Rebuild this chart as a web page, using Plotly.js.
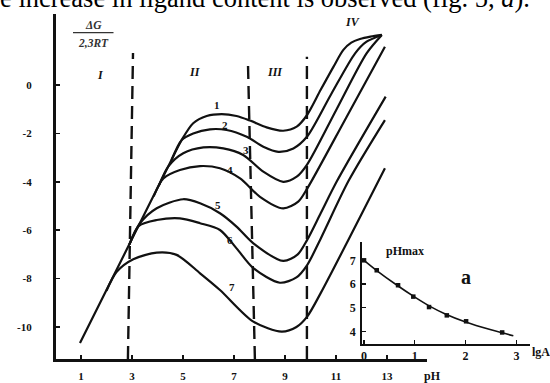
<!DOCTYPE html>
<html>
<head>
<meta charset="utf-8">
<script src="https://cdn.plot.ly/plotly-3.0.1.min.js"></script>
<style>html,body{margin:0;padding:0;background:#fff;}#chart{width:550px;height:383px;}</style>
</head>
<body>
<div id="chart"></div>
<script>
// ---- main figure data: ΔG/2.3RT vs pH (curves 1..7) ----
const pH1 = [0.96, 4.4, 4.95, 5.4, 5.93, 6.52, 7.1, 7.63, 8.28, 8.93, 9.46, 9.86, 10.4, 10.9, 11.29, 11.6, 11.94, 12.35, 12.8];
const dG1 = [-10.66, -3.41, -2.27, -1.58, -1.28, -1.2, -1.28, -1.47, -1.75, -1.89, -1.72, -1.25, -0.2, 0.75, 1.45, 1.75, 1.9, 2.0, 2.07];

const pH2 = [4.55, 4.95, 5.4, 6.06, 6.71, 7.5, 8.15, 8.74, 9.33, 9.86, 10.8, 11.75, 12.2, 12.8];
const dG2 = [-3.1, -2.27, -2.0, -1.83, -1.86, -2.14, -2.55, -2.76, -2.62, -2.14, -0.4, 1.31, 1.79, 2.07];

const pH3 = [4.05, 4.42, 5.01, 5.8, 6.58, 7.36, 8.15, 8.93, 9.46, 9.86, 11.0, 12.2, 12.8];
const dG3 = [-4.17, -3.37, -2.82, -2.58, -2.62, -2.89, -3.58, -4.0, -3.79, -3.3, -1.05, 1.31, 2.07];

const pH4 = [3.85, 4.23, 4.88, 5.67, 6.45, 7.24, 8.02, 8.93, 9.52, 9.86, 11.4, 12.92];
const dG4 = [-4.6, -3.86, -3.51, -3.35, -3.44, -3.86, -4.62, -5.1, -4.82, -4.3, -1.35, 1.58];

const pH5 = [2.9, 3.3, 3.97, 5.01, 5.67, 6.45, 7.1, 7.76, 8.93, 9.5, 9.87, 10.4, 11.05, 12.95];
const dG5 = [-6.59, -5.73, -5.09, -4.72, -4.89, -5.3, -5.85, -6.54, -7.27, -7.0, -6.4, -5.3, -3.95, -0.48];

const pH6 = [2.9, 3.27, 3.97, 4.88, 5.67, 6.45, 7.1, 7.76, 8.8, 9.45, 9.87, 10.4, 11.5, 12.92];
const dG6 = [-6.59, -5.82, -5.58, -5.51, -5.71, -5.99, -6.75, -7.57, -8.17, -7.95, -7.44, -6.35, -3.95, -1.45];

const pH7 = [2.0, 2.4, 3.05, 3.97, 4.75, 5.67, 6.45, 7.76, 8.87, 9.45, 9.87, 10.4, 12.92];
const dG7 = [-8.5, -7.72, -7.2, -6.93, -7.02, -7.78, -8.47, -9.78, -10.19, -10.0, -9.57, -8.6, -3.44];

const curveNames = ['1', '2', '3', '4', '5', '6', '7'];
const curveLabelPH = [6.32, 6.65, 7.47, 6.84, 6.38, 6.84, 6.91];
const curveLabelDG = [-0.83, -1.65, -2.69, -3.51, -4.96, -6.4, -8.33];

// region boundaries (pH at top / bottom of the dashed line, top value)
const bndPHTop = [3.04, 7.55, 9.86];
const bndPHBottom = [2.84, 7.82, 9.86];
const bndTopDG = [1.32, 0.83, 1.17];

const regionNames = ['I', 'II', 'III', 'IV'];
const regionPH = [1.75, 5.47, 8.61, 11.63];
const regionDG = [0.41, 0.55, 0.55, 2.6];

const xTicks = [1, 3, 5, 7, 9, 11, 13];
const yTicks = [0, -2, -4, -6, -8, -10];

// ---- inset (a): pHmax vs lgA ----
const lgA_pts = [0, 0.25, 0.67, 0.97, 1.28, 1.63, 2.01, 2.72];
const pHmax_pts = [7.0, 6.58, 5.95, 5.47, 5.03, 4.68, 4.43, 3.96];
const lgA_fit = [0, 0.25, 0.65, 1.0, 1.3, 1.6, 2.0, 2.5, 2.94];
const pHmax_fit = [7.0, 6.57, 5.95, 5.45, 5.06, 4.74, 4.4, 4.07, 3.82];
const insetXTicks = [0, 1, 2, 3];
const insetYTicks = [4, 5, 6, 7];

const curvesPH = [pH1, pH2, pH3, pH4, pH5, pH6, pH7];
const curvesDG = [dG1, dG2, dG3, dG4, dG5, dG6, dG7];

const serif = 'Liberation Serif, Times New Roman, serif';
const traces = [];
curvesPH.forEach((xs, i) => {
  traces.push({
    x: xs, y: curvesDG[i], type: 'scatter', mode: 'lines', name: curveNames[i],
    line: {color: '#111', width: 2.2, shape: 'spline', smoothing: 0.8},
    hoverinfo: 'skip', xaxis: 'x', yaxis: 'y'
  });
});
traces.push({
  x: lgA_fit, y: pHmax_fit, type: 'scatter', mode: 'lines',
  line: {color: '#111', width: 1.6, shape: 'spline', smoothing: 1},
  xaxis: 'x2', yaxis: 'y2', hoverinfo: 'skip', cliponaxis: false
});
traces.push({
  x: lgA_pts, y: pHmax_pts, type: 'scatter', mode: 'markers',
  marker: {color: '#111', size: 4.5, symbol: 'square'},
  xaxis: 'x2', yaxis: 'y2', hoverinfo: 'skip', cliponaxis: false
});

const shapes = [];
bndPHTop.forEach((v, i) => {
  shapes.push({
    type: 'line', xref: 'x', yref: 'y',
    x0: bndPHBottom[i], x1: v, y0: -11.32, y1: bndTopDG[i],
    line: {color: '#111', width: 2.4, dash: '13px,7px'}
  });
});
// fraction bar of the axis label
shapes.push({type: 'line', xref: 'paper', yref: 'paper', x0: 73 / 550, x1: 113.5 / 550,
  y0: (383 - 32.7) / 383, y1: (383 - 32.7) / 383, line: {color: '#333', width: 1.3}});

function paperNote(px, py, text, size, color) {
  return {x: px / 550, y: (383 - py) / 383, xref: 'paper', yref: 'paper',
    xanchor: 'center', yanchor: 'middle', text: text, showarrow: false,
    font: {family: serif, size: size, color: color || '#111', weight: 'bold'}};
}

const annotations = [];
curveNames.forEach((n, i) => {
  annotations.push({x: curveLabelPH[i], y: curveLabelDG[i], xref: 'x', yref: 'y', text: n,
    xanchor: 'center', yanchor: 'middle',
    showarrow: false, font: {family: serif, size: 11, color: '#111', weight: 'bold'}});
});
regionNames.forEach((n, i) => {
  annotations.push({x: regionPH[i], y: regionDG[i], xref: 'x', yref: 'y', text: '<i>' + n + '</i>',
    xanchor: 'center', yanchor: 'middle',
    showarrow: false, font: {family: serif, size: 12, color: '#111', weight: 'bold'}});
});
annotations.push(
  paperNote(93.3, 24.5, '<i>ΔG</i>', 11.5, '#333'),
  paperNote(93.3, 43, '<i>2,3RT</i>', 11.5, '#333'),
  paperNote(432, 375.5, 'pH', 12),
  paperNote(405, 251, 'pHmax', 12),
  paperNote(466, 277, 'a', 20),
  paperNote(541, 352, 'lgA', 12),
  {x: -2 / 550, y: (383 - 15) / 383, xref: 'paper', yref: 'paper', xanchor: 'left', yanchor: 'bottom',
   text: 'e increase in ligand content is observed (fig. 5, <i>a</i>).',
   showarrow: false, font: {family: serif, size: 26.5, color: '#000'}}
);

const layout = {
  width: 550, height: 383,
  margin: {l: 0, r: 0, t: 0, b: 0, autoexpand: false},
  paper_bgcolor: '#fff', plot_bgcolor: 'rgba(0,0,0,0)',
  showlegend: false,
  xaxis: {
    domain: [55.5 / 550, 427 / 550], range: [0, 14.57],
    showline: true, linecolor: '#111', linewidth: 2.6, showgrid: false, zeroline: false,
    tickmode: 'array', tickvals: xTicks, ticktext: xTicks.map(String),
    ticks: 'inside', ticklen: 4, tickwidth: 1.5, tickcolor: '#111',
    ticklabelstandoff: 5,
    tickfont: {family: serif, size: 11, color: '#111', weight: 'bold'}
  },
  yaxis: {
    domain: [24 / 383, 369 / 383], range: [-11.322, 2.934],
    showline: true, linecolor: '#111', linewidth: 2.6, showgrid: false, zeroline: false,
    tickmode: 'array', tickvals: yTicks, ticktext: yTicks.map(String),
    ticks: 'inside', ticklen: 4, tickwidth: 1.5, tickcolor: '#111',
    ticklabelstandoff: 19,
    tickfont: {family: serif, size: 11, color: '#111', weight: 'bold'}
  },
  xaxis2: {
    domain: [362 / 550, 530 / 550], range: [-0.04, 3.268], anchor: 'y2',
    showline: true, linecolor: '#111', linewidth: 1.8, showgrid: false, zeroline: false,
    tickmode: 'array', tickvals: insetXTicks, ticktext: insetXTicks.map(String),
    ticks: 'inside', ticklen: 4, tickwidth: 1.3, tickcolor: '#111',
    ticklabelstandoff: 0,
    tickfont: {family: serif, size: 12, color: '#111', weight: 'bold'}
  },
  yaxis2: {
    domain: [39 / 383, 141 / 383], range: [3.473, 7.772], anchor: 'x2',
    showline: true, linecolor: '#111', linewidth: 1.8, showgrid: false, zeroline: false,
    tickmode: 'array', tickvals: insetYTicks, ticktext: insetYTicks.map(String),
    ticks: 'inside', ticklen: 4, tickwidth: 1.3, tickcolor: '#111',
    ticklabelstandoff: 2,
    tickfont: {family: serif, size: 12, color: '#111', weight: 'bold'}
  },
  shapes: shapes,
  annotations: annotations
};

Plotly.newPlot('chart', traces, layout, {staticPlot: true, displayModeBar: false});
</script>
</body>
</html>
